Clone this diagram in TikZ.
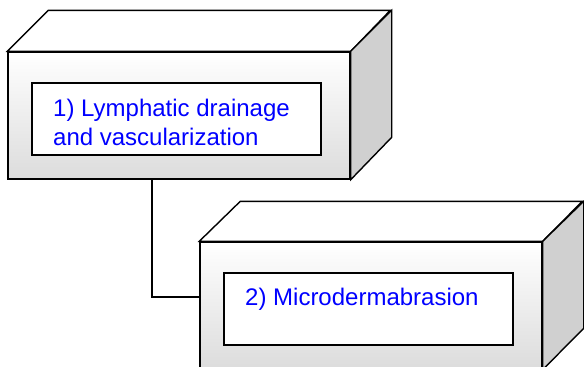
\documentclass[tikz,border=0pt]{standalone}
\usepackage{fontspec}
\setmainfont{Liberation Sans}
\definecolor{sidegray}{RGB}{208,208,208}
\definecolor{frontlow}{RGB}{220,220,220}
\definecolor{labelblue}{RGB}{0,0,255}
\tikzset{
  edge/.style={line width=1.4pt, line join=miter},
  front/.style={edge, draw, rectangle, inner sep=0pt, top color=white, bottom color=frontlow},
  panel/.style={edge, draw, fill=white, rectangle, inner sep=0pt, minimum width=289pt, minimum height=72pt},
  label/.style={inner sep=0pt, anchor=base west, align=left, text=labelblue,
    font=\fontsize{24}{28.5}\selectfont},
}
\begin{document}
\begin{tikzpicture}[x=1pt, y=-1pt]
\useasboundingbox (0,0) rectangle (584,367);
\clip (0,0) rectangle (584,367);

% box 1: front face, then top and right faces
\node[front, minimum width=342pt, minimum height=127pt] (f1) at (179,115.5) {};
\draw[edge, fill=white] (f1.north west) -- ++(41,-41) -- ++(342,0) -- (f1.north east) -- cycle;
\draw[edge, fill=sidegray] (f1.north east) -- ++(41,-41) -- ++(0,127) -- (f1.south east) -- cycle;
\node[panel] (p1) at (176.5,119) {};
% base anchor of a two-line label sits on its last line
\node[label] (t1) at (53,145) {1) Lymphatic drainage\\and vascularization};

% box 2
\node[front, minimum width=342pt, minimum height=127pt] (f2) at (371,305.5) {};
\draw[edge, fill=white] (f2.north west) -- ++(41,-40) -- ++(342,0) -- (f2.north east) -- cycle;
\draw[edge, fill=sidegray] (f2.north east) -- ++(41,-40) -- ++(0,127) -- (f2.south east) -- cycle;
\node[panel] (p2) at (368.5,309) {};
\node[label] (t2) at (245,305) {2) Microdermabrasion};

% elbow connector between the boxes
\coordinate (bend) at (152,297);
\draw[edge] (bend |- f1.south) -- (bend) -- (bend -| f2.west);
\end{tikzpicture}
\end{document}
